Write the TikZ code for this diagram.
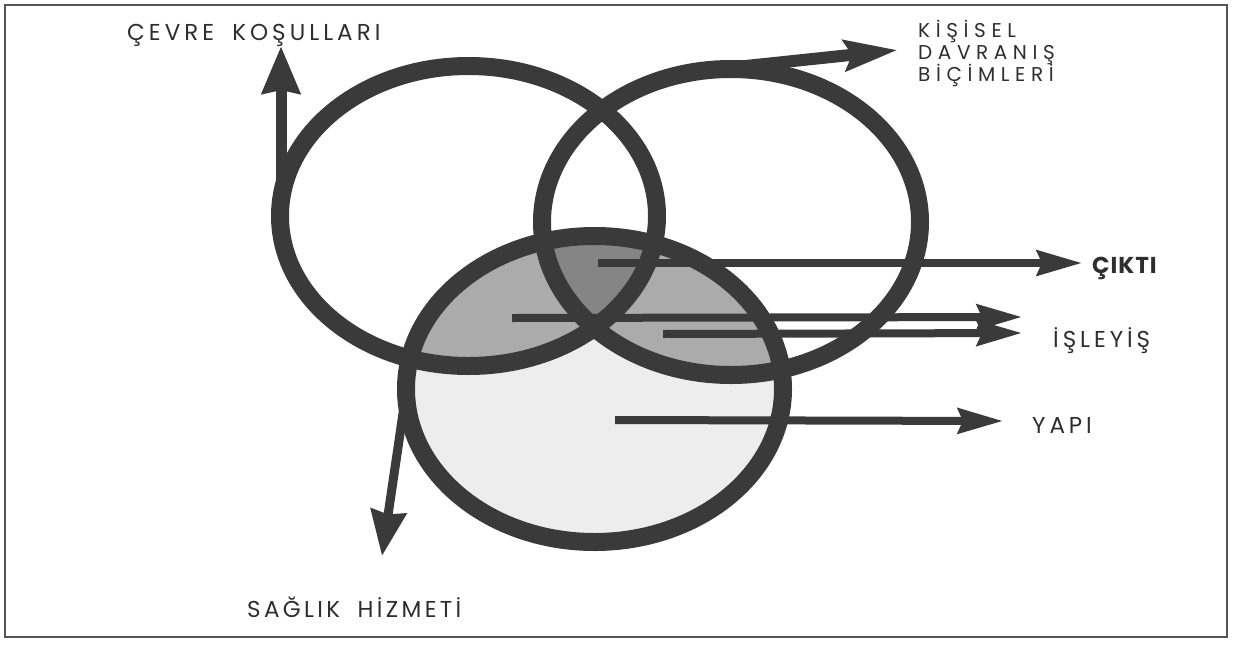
\documentclass[tikz,border=0pt]{standalone}
\usepackage{fontspec}
\setmainfont{Poppins}
\newfontfamily\lblfont[LetterSpace=17]{Poppins}
\newfontfamily\cevrefont[LetterSpace=17.5]{Poppins}
\newfontfamily\saglikfont[LetterSpace=14.5]{Poppins}
\newfontfamily\kisfont[LetterSpace=28]{Poppins}
\newfontfamily\ciktifont[LetterSpace=4]{Poppins}
\usetikzlibrary{arrows.meta}
\definecolor{ink}{HTML}{3A3A3A}
\definecolor{txt}{HTML}{2E2E2E}
\definecolor{darkfill}{HTML}{858585}
\definecolor{midfill}{HTML}{ABABAB}
\definecolor{lightfill}{HTML}{EDEDED}
\definecolor{frame}{HTML}{555555}
\tikzset{
  ring/.style={draw=ink, line width=18pt},
  lbl/.style={inner sep=0pt, anchor=base west, text=txt, font=\fontsize{23}{26}\selectfont\lblfont},
  kis/.style={lbl, font=\fontsize{20}{24}\selectfont\kisfont},
  harrow/.style={draw=ink, line width=8pt, -{Stealth[length=45pt,width=25pt,inset=5pt]}},
}
\begin{document}
\begin{tikzpicture}[x=1pt,y=-1pt]
\useasboundingbox (0,0) rectangle (1233,667);
\draw[frame, line width=1.3pt] (5,5) rectangle (1227,637);

% fills
\fill[lightfill] (594.5,389) ellipse [x radius=188.5pt, y radius=153pt];
\begin{scope}
  \clip (594.5,389) ellipse [x radius=188.5pt, y radius=153pt];
  \fill[midfill] (468.5,216) ellipse [x radius=188.5pt, y radius=150pt];
  \fill[midfill] (731,222) ellipse [x radius=189pt, y radius=153pt];
  \clip (468.5,216) ellipse [x radius=188.5pt, y radius=150pt];
  \fill[darkfill] (731,222) ellipse [x radius=189pt, y radius=153pt];
\end{scope}

% rings
\draw[ring] (468.5,216) ellipse [x radius=188.5pt, y radius=150pt];
\draw[ring] (731,222) ellipse [x radius=189pt, y radius=153pt];
\draw[ring] (594.5,389) ellipse [x radius=188.5pt, y radius=153pt];

% labels
\node[lbl, font=\fontsize{23}{26}\selectfont\cevrefont] (cevre) at (127,40) {ÇEVRE\hspace{8pt} KOŞULLARI};
\node[kis] (kis1) at (918,37.5) {KİŞİSEL};
\node[kis] (kis2) at (918,59.5) {DAVRANIŞ};
\node[kis] (kis3) at (918,81.5) {BİÇİMLERİ};
\node[lbl, font=\fontsize{23}{26}\selectfont\ciktifont\bfseries] (cikti) at (1092,273) {ÇIKTI};
\node[lbl] (isleyis) at (1053,347) {İŞLEYİŞ};
\node[lbl] (yapi) at (1032,433) {YAPI};
\node[lbl, font=\fontsize{23}{26}\selectfont\saglikfont] (saglik) at (247,617) {SAĞLIK\hspace{8pt} HİZMETİ};

% arrow coordinates
\coordinate (cevreS) at (281,216);
\coordinate (cevreT) at (281,46);
\coordinate (kisS) at (698,71);
\coordinate (kisT) at (898,50);
\coordinate (saglikS) at (406,393);
\coordinate (saglikT) at (382,556);
\coordinate (ciktiS) at (598,263);
\coordinate (ciktiT) at (1082,263);
\coordinate (is1S) at (512,318);
\coordinate (is1T) at (1022,317);
\coordinate (is2S) at (663,334);
\coordinate (is2T) at (1022,333);
\coordinate (yapiS) at (615,420);
\coordinate (yapiT) at (1003,421);

% arrows
\draw[draw=ink, line width=11pt, -{Stealth[length=47pt,width=37pt,inset=3pt]}] (cevreS) -- (cevreT);
\draw[draw=ink, line width=12pt, -{Stealth[length=53pt,width=30pt,inset=7pt]}] (kisS) -- (kisT);
\draw[draw=ink, line width=9pt, -{Stealth[length=45pt,width=35pt,inset=3pt]}] (saglikS) -- (saglikT);
\draw[harrow] (ciktiS) -- (ciktiT);
\draw[harrow] (is1S) -- (is1T);
\draw[harrow] (is2S) -- (is2T);
\draw[harrow] (yapiS) -- (yapiT);
\end{tikzpicture}
\end{document}
